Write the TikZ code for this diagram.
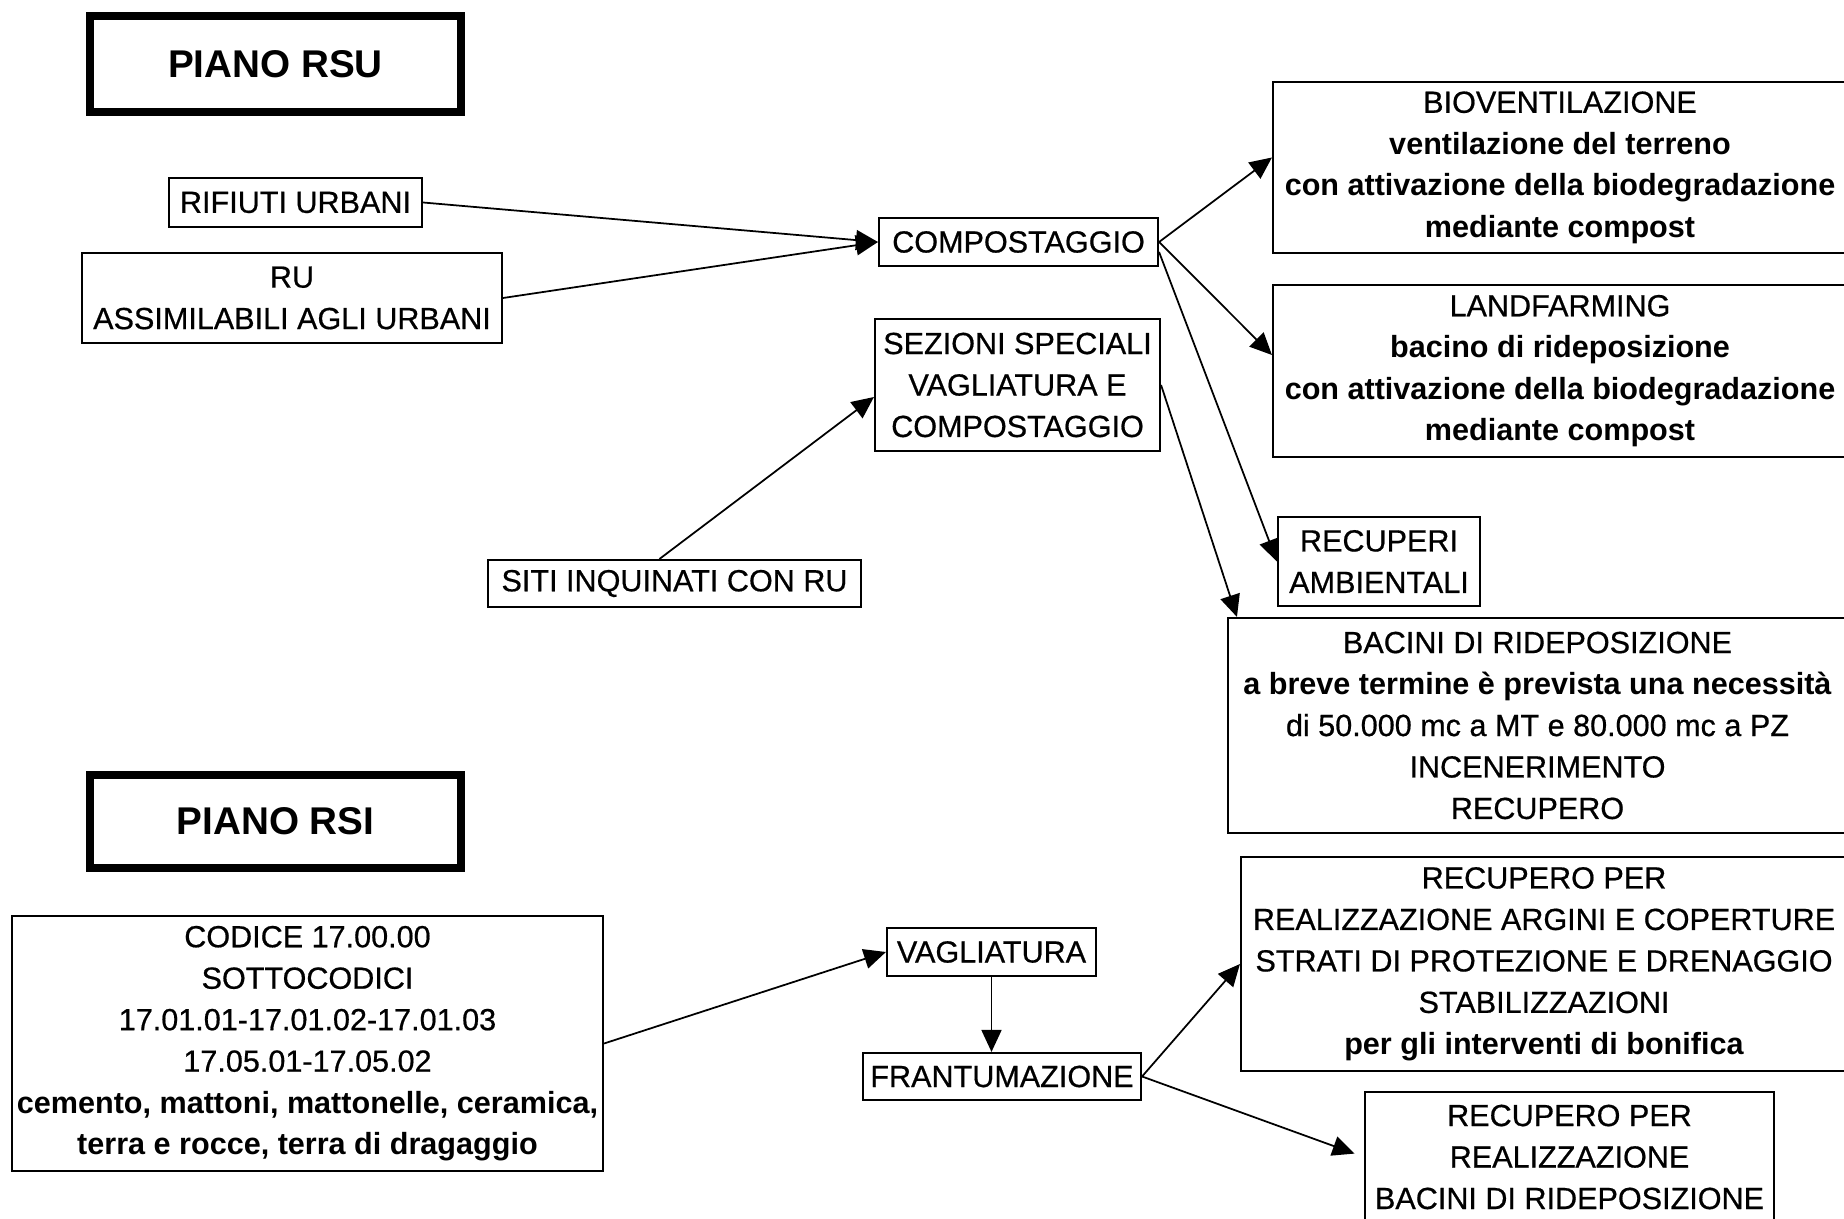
\documentclass[tikz,border=0pt]{standalone}
\usepackage{fontspec}
\setmainfont{Liberation Sans}[UprightFeatures={FakeBold=0.6}]
\usetikzlibrary{arrows.meta,positioning,calc}

\begin{document}
\begin{tikzpicture}[
    box/.style={draw, line width=0.6pt, inner sep=0pt, align=center, font=\fontsize{8.7}{11.8}\selectfont},
    titlebox/.style={draw, line width=2.1pt, inner sep=0pt, minimum width=3.71cm, font=\fontsize{11}{13}\selectfont\bfseries},
    arr/.style={-{Triangle[length=2.2mm,width=2mm]}, line width=0.5pt}
]
\useasboundingbox (0,0) rectangle (18.44,-12.19);

% piano RSU
\node[titlebox, minimum height=0.96cm] (rsu) at (2.755,-0.64) {PIANO RSU};
\node[box, minimum width=2.53cm, minimum height=0.49cm] (rif) at (2.955,-2.025) {RIFIUTI URBANI};
\node[box, minimum width=4.20cm, minimum height=0.90cm] (ru) at (2.92,-2.98) {RU\\ASSIMILABILI AGLI URBANI};
\node[box, minimum width=2.79cm, minimum height=0.48cm] (comp) at (10.185,-2.42) {COMPOSTAGGIO};
\node[box, minimum width=2.85cm, minimum height=1.32cm] (sez) at (10.175,-3.85) {SEZIONI SPECIALI\\VAGLIATURA E\\COMPOSTAGGIO};
\node[box, minimum width=3.73cm, minimum height=0.47cm] (siti) at (6.745,-5.835) {SITI INQUINATI CON RU};

\node[box, minimum width=5.74cm, minimum height=1.71cm] (bio) at (15.60,-1.675) {BIOVENTILAZIONE\\\textbf{ventilazione del terreno}\\\textbf{con attivazione della biodegradazione}\\\textbf{mediante compost}};
\node[box, minimum width=5.74cm, minimum height=1.72cm] (land) at (15.60,-3.71) {LANDFARMING\\\textbf{bacino di rideposizione}\\\textbf{con attivazione della biodegradazione}\\\textbf{mediante compost}};
\node[box, minimum width=2.02cm, minimum height=0.89cm] (recamb) at (13.79,-5.615) {RECUPERI\\AMBIENTALI};
\node[box, minimum width=6.19cm, minimum height=2.15cm] (bac) at (15.375,-7.255) {BACINI DI RIDEPOSIZIONE\\\textbf{a breve termine è prevista una necessità}\\di 50.000 mc a MT e 80.000 mc a PZ\\INCENERIMENTO\\RECUPERO};

% piano RSI
\node[titlebox, minimum height=0.93cm] (rsi) at (2.755,-8.215) {PIANO RSI};
\node[box, minimum width=5.91cm, minimum height=2.55cm] (cod) at (3.075,-10.435) {CODICE 17.00.00\\SOTTOCODICI\\17.01.01-17.01.02-17.01.03\\17.05.01-17.05.02\\\textbf{cemento, mattoni, mattonelle, ceramica,}\\\textbf{terra e rocce, terra di dragaggio}};
\node[box, minimum width=2.09cm, minimum height=0.48cm] (vag) at (9.915,-9.52) {VAGLIATURA};
\node[box, minimum width=2.78cm, minimum height=0.47cm] (frant) at (10.02,-10.765) {FRANTUMAZIONE};
\node[box, minimum width=6.06cm, minimum height=2.14cm] (arg) at (15.44,-9.64) {RECUPERO PER\\REALIZZAZIONE ARGINI E COPERTURE\\STRATI DI PROTEZIONE E DRENAGGIO\\STABILIZZAZIONI\\\textbf{per gli interventi di bonifica}};
\node[box, minimum width=4.09cm, minimum height=1.30cm] (rbac) at (15.695,-11.57) {RECUPERO PER\\REALIZZAZIONE\\BACINI DI RIDEPOSIZIONE};

% collegamenti
\draw[arr] (rif.east) -- (comp.west);
\draw[arr] (ru.east) -- (comp.west);
\draw[arr] ([xshift=-1.5mm]siti.north) -- ([yshift=-1.2mm]sez.west);
\draw[arr] (comp.east) -- ([yshift=1mm]bio.west);
\draw[arr] (comp.east) -- ([yshift=1.6mm]land.west);
\draw[arr] ([yshift=-1mm]comp.east) -- (recamb.west);
\draw[arr] (sez.east) -- ([xshift=1mm]bac.north west);

\draw[arr] (cod.east) -- (vag.west);
\draw[arr] (vag.south) -- (vag.south |- frant.north);
\draw[arr] (frant.east) -- (arg.west);
\draw[arr, shorten >=1mm] (frant.east) -- (rbac.west);
\end{tikzpicture}
\end{document}
